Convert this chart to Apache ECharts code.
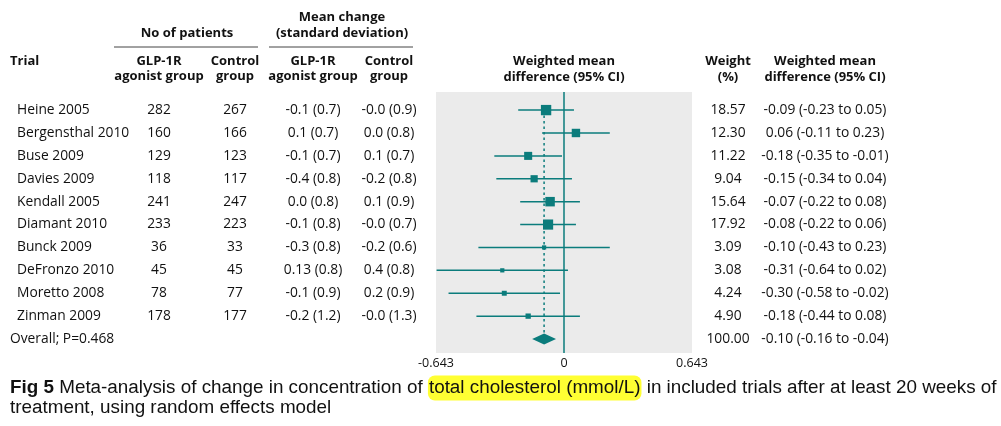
<!DOCTYPE html>
<html>
<head>
<meta charset="utf-8">
<script src="https://cdn.jsdelivr.net/npm/echarts@6/dist/echarts.min.js"></script>
<style>html,body{margin:0;padding:0;background:#fff}#c{width:1001px;height:426px}</style>
</head>
<body>
<div id="c"></div>
<script>
// ---- data ----
const trials = ['Heine 2005','Bergensthal 2010','Buse 2009','Davies 2009','Kendall 2005','Diamant 2010','Bunck 2009','DeFronzo 2010','Moretto 2008','Zinman 2009'];
const nGlp = [282,160,129,118,241,233,36,45,78,178];
const nCtrl = [267,166,123,117,247,223,33,45,77,177];
const meanGlp = ['-0.1 (0.7)','0.1 (0.7)','-0.1 (0.7)','-0.4 (0.8)','0.0 (0.8)','-0.1 (0.8)','-0.3 (0.8)','0.13 (0.8)','-0.1 (0.9)','-0.2 (1.2)'];
const meanCtrl = ['-0.0 (0.9)','0.0 (0.8)','0.1 (0.7)','-0.2 (0.8)','0.1 (0.9)','-0.0 (0.7)','-0.2 (0.6)','0.4 (0.8)','0.2 (0.9)','-0.0 (1.3)'];
const weights = [18.57,12.30,11.22,9.04,15.64,17.92,3.09,3.08,4.24,4.90];
const wmd = [-0.09,0.06,-0.18,-0.15,-0.07,-0.08,-0.10,-0.31,-0.30,-0.18];
const ciLow = [-0.23,-0.11,-0.35,-0.34,-0.22,-0.22,-0.43,-0.64,-0.58,-0.44];
const ciHigh = [0.05,0.23,-0.01,0.04,0.08,0.06,0.23,0.02,-0.02,0.08];
const overallLabel = 'Overall; P=0.468';
const overallWeight = 100.00;
const overallWmd = -0.10, overallLow = -0.16, overallHigh = -0.04;
const xTickLabels = ['-0.643','0','0.643'];
const xLimit = 0.643;

// ---- styling ----
const TEAL = '#0b7c7c';
const FONT = "'Open Sans'";
const BODY = 13.8;
const fmt = v => v.toFixed(2);
const wmdText = (e,l,h) => fmt(e) + ' (' + fmt(l) + ' to ' + fmt(h) + ')';

const chart = echarts.init(document.getElementById('c'), null, {renderer:'canvas'});

const forestData = trials.map((t,i)=>[ciLow[i], ciHigh[i], wmd[i], weights[i], i]);
const nRows = trials.length;

function txt(x, y, s, align, bold, size){
  return {type:'text', x:x, y:y, style:{text:s, x:0, y:0, align:align||'center', verticalAlign:'middle',
    fontFamily:FONT, fontSize:size||13, fontWeight:bold?'bold':'normal', fill:'#111'}};
}

const COL = {trial:17, overall:10, nG:159, nC:235, mG:313, mC:389, wt:728, wmd:825};
const CAPF = "'Liberation Sans', Arial";
const CAPS = 18.85;

const option = {
  animation:false,
  grid:{left:436, right:309, top:92, bottom:73, show:true, backgroundColor:'#ebebeb', borderWidth:0},
  xAxis:{type:'value', min:-xLimit, max:xLimit, interval:xLimit,
    axisLine:{show:false}, axisTick:{show:false}, splitLine:{show:false},
    axisLabel:{margin:4, fontFamily:FONT, fontSize:12.5, color:'#111',
      formatter:(v,idx)=>xTickLabels[idx]}},
  yAxis:{type:'value', inverse:true, min:-0.79, max:10.61, show:false},
  series:[
    { // zero line
      type:'line', data:[], silent:true,
      markLine:{symbol:['none','none'], silent:true, label:{show:false},
        lineStyle:{color:TEAL, width:1.5, type:'solid'}, data:[{xAxis:0}]}
    },
    { // overall dashed reference
      type:'line', data:[[overallWmd,0],[overallWmd,nRows]], symbol:'none', silent:true,
      lineStyle:{color:TEAL, width:1.5, type:[2.5,3]}
    },
    { // CIs and squares
      type:'custom', clip:false, data:forestData,
      renderItem:(params, api)=>{
        const lo=api.value(0), hi=api.value(1), est=api.value(2), w=api.value(3), i=api.value(4);
        const p1=api.coord([lo,i]), p2=api.coord([hi,i]), pc=api.coord([est,i]);
        const s=Math.sqrt(w)*2.4;
        return {type:'group', children:[
          {type:'line', shape:{x1:p1[0],y1:p1[1],x2:p2[0],y2:p2[1]}, style:{stroke:TEAL, lineWidth:1.5}},
          {type:'rect', shape:{x:pc[0]-s/2, y:pc[1]-s/2, width:s, height:s}, style:{fill:TEAL}}
        ]};
      }
    },
    { // overall diamond
      type:'custom', clip:false, data:[[overallLow, overallHigh, overallWmd, nRows]],
      renderItem:(params, api)=>{
        const lo=api.coord([api.value(0),api.value(3)]), hi=api.coord([api.value(1),api.value(3)]), c=api.coord([api.value(2),api.value(3)]);
        const h=5.5;
        return {type:'polygon', shape:{points:[[lo[0],c[1]],[c[0],c[1]-h],[hi[0],c[1]],[c[0],c[1]+h]]}, style:{fill:TEAL}};
      }
    },
    { // table text rows
      type:'custom', clip:false, silent:true, data:trials.map((t,i)=>[0,i]),
      renderItem:(params, api)=>{
        const i=api.value(1); const y=api.coord([0,i])[1];
        return {type:'group', children:[
          txt(COL.trial, y, trials[i], 'left', false, BODY),
          txt(COL.nG, y, String(nGlp[i]), 'center', false, BODY),
          txt(COL.nC, y, String(nCtrl[i]), 'center', false, BODY),
          txt(COL.mG, y, meanGlp[i], 'center', false, BODY),
          txt(COL.mC, y, meanCtrl[i], 'center', false, BODY),
          txt(COL.wt, y, fmt(weights[i]), 'center', false, BODY),
          txt(COL.wmd, y, wmdText(wmd[i], ciLow[i], ciHigh[i]), 'center', false, BODY)
        ]};
      }
    },
    { // overall text row
      type:'custom', clip:false, silent:true, data:[[0,nRows]],
      renderItem:(params, api)=>{
        const y=api.coord([0,api.value(1)])[1];
        return {type:'group', children:[
          txt(COL.overall, y, overallLabel, 'left', false, BODY),
          txt(COL.wt, y, fmt(overallWeight), 'center', false, BODY),
          txt(COL.wmd, y, wmdText(overallWmd, overallLow, overallHigh), 'center', false, BODY)
        ]};
      }
    }
  ],
  graphic:[
    txt(10, 61, 'Trial', 'left', true),
    txt(187, 33, 'No of patients', 'center', true),
    {type:'line', shape:{x1:114,y1:47,x2:258,y2:47}, style:{stroke:'#444', lineWidth:1}},
    txt(342, 17, 'Mean change', 'center', true),
    txt(342, 33, '(standard deviation)', 'center', true),
    {type:'line', shape:{x1:269,y1:47,x2:413,y2:47}, style:{stroke:'#444', lineWidth:1}},
    txt(159, 61, 'GLP-1R', 'center', true),
    txt(159, 76, 'agonist group', 'center', true),
    txt(235, 61, 'Control', 'center', true),
    txt(235, 76, 'group', 'center', true),
    txt(313, 61, 'GLP-1R', 'center', true),
    txt(313, 76, 'agonist group', 'center', true),
    txt(389, 61, 'Control', 'center', true),
    txt(389, 76, 'group', 'center', true),
    txt(564, 61, 'Weighted mean', 'center', true),
    txt(564, 77, 'difference (95% CI)', 'center', true),
    txt(728, 61, 'Weight', 'center', true),
    txt(728, 77, '(%)', 'center', true),
    txt(825, 61, 'Weighted mean', 'center', true),
    txt(825, 77, 'difference (95% CI)', 'center', true),
    {type:'text', x:10, y:378, style:{
      text:'{b|Fig 5} Meta-analysis of change in concentration of {h|total cholesterol (mmol/L)} in included trials after at least 20 weeks of\ntreatment, using random effects model',
      fontFamily:CAPF, fontSize:CAPS, fill:'#111', lineHeight:20,
      rich:{
        b:{fontFamily:CAPF, fontSize:CAPS, fontWeight:'bold', fill:'#111', lineHeight:20},
        h:{fontFamily:CAPF, fontSize:CAPS, fill:'#111', backgroundColor:'#ffff33', borderRadius:7, padding:[3,1,3,1], lineHeight:20}
      }
    }}
  ]
};
chart.setOption(option);
</script>
</body>
</html>
